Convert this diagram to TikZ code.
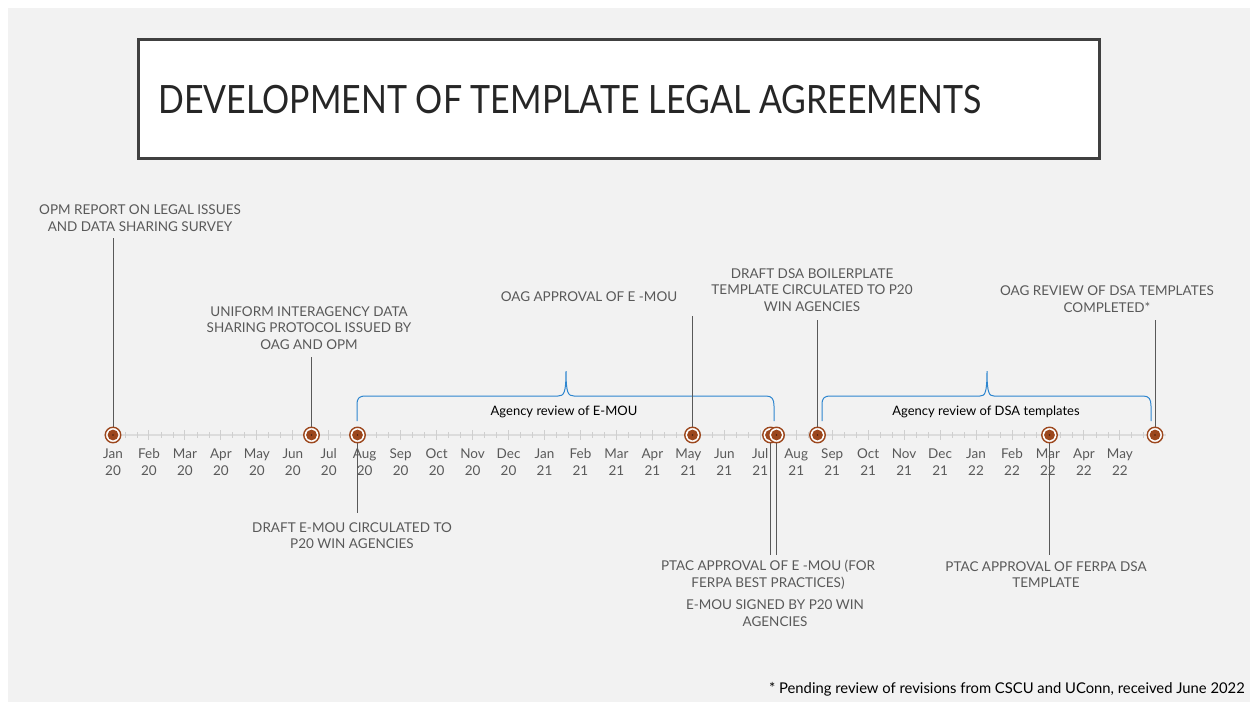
\documentclass[tikz,border=0pt]{standalone}
\usepackage{fontspec}
\setmainfont{Lato}
\newfontfamily\titlefont[FakeStretch=0.87]{Lato}
\usetikzlibrary{calc}
\definecolor{bg}{HTML}{F2F2F2}
\definecolor{txtgray}{HTML}{595959}
\definecolor{markbrown}{HTML}{9C471D}
\definecolor{markdark}{HTML}{4A2210}
\definecolor{braceblue}{HTML}{2E86CF}
\definecolor{axisgray}{HTML}{DCDCDC}
\definecolor{tickgray}{HTML}{CFCFCF}
\definecolor{framegray}{HTML}{404040}
\begin{document}
\begin{tikzpicture}[x=1pt,y=-1pt,
  annot/.style={text=txtgray, font=\fontsize{13.5}{16.5}\selectfont, align=center, inner sep=0},
  monthlbl/.style={text=txtgray, font=\fontsize{13.5}{17}\selectfont, align=center, inner sep=0},
  bracelbl/.style={text=black, font=\fontsize{13}{15}\selectfont, inner sep=0},
  conn/.style={draw=txtgray, line width=0.8pt},
  bracepath/.style={draw=braceblue, line width=1pt},
  marker/.style={circle, minimum size=15.5pt, inner sep=0, draw=markbrown, line width=1.4pt, fill=white,
    path picture={\fill[markbrown] (path picture bounding box.center) circle (5.4);
                  \fill[markdark] (path picture bounding box.center) circle (0.9);}}
]
\useasboundingbox (0,0) rectangle (1250,702);
\fill[bg] (8,8) rectangle (1250,702);

% title
\draw[framegray, line width=3pt, fill=white] (138.5,39.5) rectangle (1099.5,158.5);
\node[anchor=west, inner sep=0, text=black!85, font=\titlefont\fontsize{39}{44}\selectfont] (title) at (158,100) {DEVELOPMENT OF TEMPLATE LEGAL AGREEMENTS};

% axis
\draw[axisgray, line width=2.5pt] (104,435) -- (1166,435);
\foreach \i in {0,...,29} {
  \draw[tickgray, line width=1pt] ({113+35.96*\i},430) -- ({113+35.96*\i},440);
}
\foreach \i in {0,...,28} {
  \draw[tickgray, line width=0.8pt] ({113+35.96*\i+12},432) -- ({113+35.96*\i+12},438);
  \draw[tickgray, line width=0.8pt] ({113+35.96*\i+24},432) -- ({113+35.96*\i+24},438);
}

% month labels
\foreach \mon/\yr [count=\i from 0] in {Jan/20,Feb/20,Mar/20,Apr/20,May/20,Jun/20,Jul/20,Aug/20,Sep/20,Oct/20,Nov/20,Dec/20,Jan/21,Feb/21,Mar/21,Apr/21,May/21,Jun/21,Jul/21,Aug/21,Sep/21,Oct/21,Nov/21,Dec/21,Jan/22,Feb/22,Mar/22,Apr/22,May/22} {
  \node[monthlbl] (ml\i) at ({113+35.96*\i},462.5) {\mon\\\yr};
}

% braces
\draw[bracepath] (357,421) -- (357,405) .. controls (357,398) and (359,396) .. (366,396)
  -- (558,396) .. controls (564,396) and (566,393) .. (566,371)
  .. controls (566,393) and (568,396) .. (574,396) -- (766,396)
  .. controls (772,396) and (774,399) .. (774,406) -- (774,421);
\draw[bracepath] (822,421) -- (822,405) .. controls (822,398) and (824,396) .. (831,396)
  -- (980,396) .. controls (985,396) and (987,393) .. (987,371)
  .. controls (987,393) and (989,396) .. (994,396) -- (1143,396)
  .. controls (1149,396) and (1151,399) .. (1151,406) -- (1151,421);
\node[bracelbl] (b1) at (564,412) {Agency review of E-MOU};
\node[bracelbl] (b2) at (986,412) {Agency review of DSA templates};

% labels
\node[annot] (lA) at (140,218) {OPM REPORT ON LEGAL ISSUES\\AND DATA SHARING SURVEY};
\node[annot] (lB) at (309,328) {UNIFORM INTERAGENCY DATA\\SHARING PROTOCOL ISSUED BY\\OAG AND OPM};
\node[annot] (lC) at (352,535.5) {DRAFT E-MOU CIRCULATED TO\\P20 WIN AGENCIES};
\node[annot] (lD) at (589,297) {OAG APPROVAL OF E -MOU};
\node[annot] (lE) at (768,574.5) {PTAC APPROVAL OF E -MOU (FOR\\FERPA BEST PRACTICES)};
\node[annot] (lF) at (775,613) {E-MOU SIGNED BY P20 WIN\\AGENCIES};
\node[annot] (lG) at (812,290) {DRAFT DSA BOILERPLATE\\TEMPLATE CIRCULATED TO P20\\WIN AGENCIES};
\node[annot] (lH) at (1046,574.5) {PTAC APPROVAL OF FERPA DSA\\TEMPLATE};
\node[annot] (lI) at (1107,299) {OAG REVIEW OF DSA TEMPLATES\\COMPLETED*};

% connector free ends
\coordinate (eA) at (113,238);
\coordinate (eB) at (311.5,357);
\coordinate (eC) at (357.5,513);
\coordinate (eD) at (692.5,316);
\coordinate (eE) at (770.5,555);
\coordinate (eF) at (776.5,555);
\coordinate (eG) at (817.5,320);
\coordinate (eH) at (1049.5,555);
\coordinate (eI) at (1155,320);

% marker positions
\coordinate (pA) at (113,435);
\coordinate (pB) at (311.5,435);
\coordinate (pC) at (357.5,435);
\coordinate (pD) at (692.5,435);
\coordinate (pE) at (770.5,435);
\coordinate (pF) at (776.5,435);
\coordinate (pG) at (817.5,435);
\coordinate (pH) at (1049.5,435);
\coordinate (pI) at (1155,435);

\draw[conn] (pA) -- (eA);
\draw[conn] (pB) -- (eB);
\draw[conn] (pC) -- (eC);
\draw[conn] (pD) -- (eD);
\draw[conn] (pE) -- (eE);
\draw[conn] (pF) -- (eF);
\draw[conn] (pG) -- (eG);
\draw[conn] (pH) -- (eH);
\draw[conn] (pI) -- (eI);

\node[marker] (mA) at (pA) {};
\node[marker] (mB) at (pB) {};
\node[marker] (mC) at (pC) {};
\node[marker] (mD) at (pD) {};
\node[marker] (mE) at (pE) {};
\node[marker] (mF) at (pF) {};
\node[marker] (mG) at (pG) {};
\node[marker] (mH) at (pH) {};
\node[marker] (mI) at (pI) {};

% footnote
\node[anchor=east, inner sep=0, text=black, font=\fontsize{14.8}{17}\selectfont] (foot) at (1245,689) {* Pending review of revisions from CSCU and UConn, received June 2022};
\end{tikzpicture}
\end{document}
